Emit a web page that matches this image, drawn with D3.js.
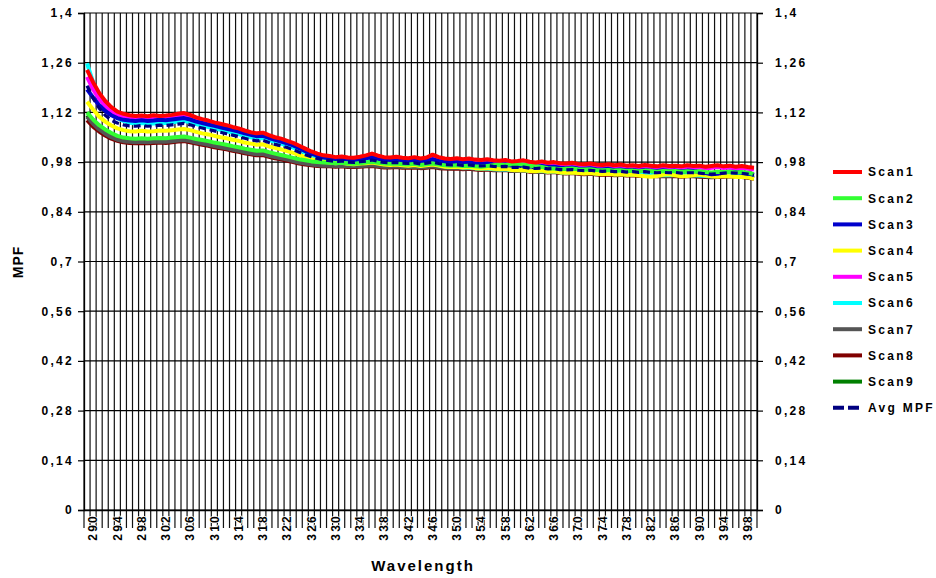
<!DOCTYPE html>
<html><head><meta charset="utf-8">
<script src="https://cdn.jsdelivr.net/npm/d3@7"></script>
<style>
html,body{margin:0;padding:0;background:#fff;}
text{font-family:"Liberation Sans",Arial,sans-serif;font-weight:bold;fill:#000;}
</style></head>
<body>
<svg id="chart" width="936" height="578"></svg>
<script>
// ---- DATA ----
const wavelengths = d3.range(289, 400); // 111 categories (289..399)
const xTickLabels = ["290","294","298","302","306","310","314","318","322","326","330","334","338","342","346","350","354","358","362","366","370","374","378","382","386","390","394","398"];
const yTicks = [0, 0.14, 0.28, 0.42, 0.56, 0.7, 0.84, 0.98, 1.12, 1.26, 1.4];
const yTickLabels = ["0","0,14","0,28","0,42","0,56","0,7","0,84","0,98","1,12","1,26","1,4"];
const seriesNames = ["Scan1","Scan2","Scan3","Scan4","Scan5","Scan6","Scan7","Scan8","Scan9","Avg MPF"];
const seriesColors = ["#ff0000","#33ff33","#0000cc","#ffff00","#ff00ff","#00ffff","#555555","#800000","#008000","#000080"];

const scan1 = [1.240,1.205,1.175,1.152,1.135,1.122,1.116,1.112,1.110,1.111,
1.109,1.112,1.110,1.111,1.113,1.116,1.118,1.113,1.106,1.101,
1.097,1.092,1.088,1.084,1.079,1.075,1.069,1.064,1.061,1.063,
1.056,1.050,1.046,1.040,1.034,1.026,1.018,1.010,1.004,0.999,
0.997,0.994,0.996,0.993,0.992,0.995,0.999,1.004,0.998,0.994,
0.993,0.995,0.992,0.991,0.994,0.990,0.993,1.001,0.994,0.990,
0.989,0.991,0.988,0.990,0.987,0.986,0.988,0.985,0.984,0.986,
0.982,0.983,0.985,0.981,0.979,0.982,0.978,0.980,0.977,0.976,
0.978,0.975,0.974,0.976,0.973,0.972,0.974,0.971,0.973,0.970,
0.971,0.969,0.972,0.970,0.968,0.971,0.969,0.970,0.968,0.971,
0.969,0.970,0.967,0.969,0.971,0.968,0.970,0.967,0.969,0.966,0.964];
const scan2 = [1.120,1.100,1.084,1.072,1.062,1.054,1.049,1.047,1.046,1.047,
1.046,1.047,1.048,1.047,1.049,1.051,1.052,1.049,1.045,1.042,
1.039,1.035,1.032,1.029,1.025,1.022,1.018,1.015,1.012,1.013,
1.008,1.004,1.000,0.996,0.992,0.988,0.985,0.982,0.980,0.979,
0.978,0.977,0.978,0.976,0.975,0.977,0.979,0.981,0.978,0.976,
0.975,0.976,0.974,0.973,0.975,0.972,0.974,0.976,0.973,0.971,
0.970,0.971,0.969,0.970,0.968,0.967,0.969,0.971,0.973,0.972,
0.974,0.975,0.973,0.970,0.968,0.966,0.963,0.962,0.960,0.961,
0.962,0.960,0.959,0.960,0.958,0.957,0.958,0.956,0.957,0.955,
0.956,0.954,0.956,0.955,0.953,0.955,0.954,0.955,0.953,0.954,
0.953,0.954,0.952,0.951,0.953,0.952,0.953,0.951,0.952,0.950,0.946];
const scan3 = [1.185,1.162,1.140,1.124,1.112,1.104,1.099,1.097,1.096,1.098,
1.096,1.097,1.099,1.098,1.100,1.102,1.104,1.100,1.094,1.090,
1.086,1.082,1.078,1.074,1.070,1.066,1.061,1.057,1.053,1.054,
1.048,1.043,1.038,1.033,1.027,1.019,1.011,1.004,0.998,0.993,
0.991,0.989,0.990,0.987,0.986,0.988,0.991,0.994,0.989,0.986,
0.985,0.987,0.984,0.983,0.985,0.982,0.984,0.988,0.983,0.980,
0.979,0.980,0.978,0.979,0.976,0.975,0.977,0.974,0.973,0.974,
0.971,0.970,0.972,0.968,0.967,0.969,0.966,0.967,0.964,0.963,
0.965,0.962,0.961,0.963,0.960,0.959,0.961,0.958,0.959,0.957,
0.958,0.956,0.958,0.956,0.955,0.957,0.955,0.956,0.954,0.956,
0.955,0.953,0.949,0.946,0.947,0.951,0.953,0.952,0.950,0.948,0.944];
const scan4 = [1.150,1.128,1.108,1.094,1.083,1.075,1.070,1.067,1.066,1.068,
1.066,1.067,1.069,1.068,1.070,1.072,1.073,1.070,1.065,1.061,
1.058,1.054,1.050,1.047,1.043,1.040,1.035,1.032,1.029,1.030,
1.024,1.020,1.016,1.011,1.006,1.000,0.994,0.988,0.984,0.981,
0.979,0.977,0.978,0.975,0.974,0.976,0.977,0.979,0.976,0.973,
0.972,0.973,0.971,0.970,0.972,0.969,0.971,0.973,0.970,0.967,
0.966,0.967,0.965,0.966,0.963,0.962,0.963,0.961,0.960,0.961,
0.958,0.957,0.958,0.955,0.954,0.956,0.953,0.954,0.951,0.950,
0.951,0.949,0.948,0.949,0.947,0.946,0.947,0.945,0.946,0.944,
0.945,0.942,0.940,0.939,0.941,0.944,0.946,0.943,0.940,0.941,
0.943,0.945,0.942,0.940,0.939,0.941,0.940,0.938,0.939,0.937,0.933];
const scan5 = [1.220,1.185,1.158,1.138,1.122,1.112,1.107,1.104,1.103,1.105,
1.103,1.105,1.104,1.105,1.107,1.109,1.111,1.107,1.100,1.096,
1.092,1.087,1.083,1.079,1.074,1.070,1.065,1.060,1.057,1.059,
1.052,1.046,1.042,1.036,1.030,1.022,1.014,1.007,1.001,0.996,
0.994,0.991,0.993,0.990,0.989,0.991,0.995,0.999,0.994,0.990,
0.989,0.991,0.988,0.987,0.990,0.986,0.989,0.995,0.989,0.985,
0.984,0.986,0.983,0.985,0.982,0.981,0.983,0.980,0.979,0.981,
0.977,0.978,0.980,0.976,0.974,0.977,0.973,0.975,0.972,0.971,
0.973,0.970,0.969,0.971,0.968,0.967,0.969,0.966,0.968,0.965,
0.966,0.964,0.967,0.965,0.963,0.966,0.964,0.965,0.963,0.966,
0.964,0.965,0.962,0.964,0.966,0.963,0.965,0.962,0.964,0.961,0.959];
const scan6 = [1.258,1.205,1.165,1.138,1.118,1.104,1.096,1.091,1.089,1.090,
1.088,1.089,1.091,1.090,1.092,1.094,1.096,1.092,1.087,1.083,
1.079,1.075,1.071,1.067,1.063,1.059,1.054,1.050,1.047,1.048,
1.042,1.037,1.032,1.027,1.021,1.014,1.006,0.999,0.993,0.988,
0.985,0.983,0.984,0.981,0.979,0.980,0.982,0.984,0.980,0.977,
0.976,0.976,0.974,0.973,0.974,0.972,0.973,0.975,0.971,0.968,
0.966,0.967,0.965,0.965,0.963,0.962,0.962,0.960,0.959,0.960,
0.957,0.957,0.958,0.955,0.954,0.955,0.953,0.954,0.951,0.950,
0.952,0.950,0.949,0.950,0.948,0.947,0.948,0.946,0.947,0.945,
0.946,0.944,0.946,0.944,0.943,0.944,0.943,0.944,0.942,0.943,
0.943,0.942,0.941,0.940,0.941,0.942,0.943,0.942,0.941,0.939,0.936];
const scan7 = [1.108,1.088,1.072,1.060,1.050,1.043,1.039,1.037,1.036,1.037,
1.036,1.037,1.038,1.037,1.039,1.041,1.042,1.039,1.035,1.032,
1.029,1.025,1.022,1.019,1.015,1.012,1.008,1.005,1.002,1.003,
0.998,0.994,0.991,0.987,0.983,0.979,0.976,0.973,0.971,0.970,
0.970,0.969,0.970,0.968,0.968,0.969,0.970,0.971,0.969,0.967,
0.967,0.968,0.966,0.966,0.967,0.965,0.966,0.968,0.965,0.964,
0.963,0.964,0.962,0.963,0.961,0.960,0.961,0.959,0.959,0.960,
0.957,0.957,0.958,0.955,0.954,0.955,0.953,0.954,0.951,0.950,
0.951,0.949,0.948,0.949,0.947,0.946,0.947,0.945,0.946,0.944,
0.945,0.943,0.944,0.943,0.942,0.943,0.942,0.943,0.941,0.942,
0.942,0.941,0.940,0.939,0.940,0.941,0.942,0.941,0.940,0.938,0.935];
const scan8 = [1.098,1.080,1.066,1.055,1.046,1.040,1.036,1.034,1.033,1.034,
1.033,1.034,1.035,1.034,1.036,1.038,1.039,1.036,1.032,1.029,
1.026,1.022,1.019,1.016,1.012,1.009,1.005,1.002,0.999,1.000,
0.995,0.991,0.988,0.984,0.980,0.976,0.973,0.971,0.969,0.968,
0.968,0.967,0.968,0.966,0.966,0.967,0.968,0.969,0.967,0.965,
0.965,0.966,0.964,0.964,0.965,0.963,0.964,0.966,0.963,0.962,
0.961,0.962,0.960,0.961,0.959,0.958,0.959,0.957,0.957,0.958,
0.955,0.955,0.956,0.953,0.952,0.953,0.951,0.952,0.949,0.948,
0.949,0.947,0.946,0.947,0.945,0.944,0.945,0.943,0.944,0.942,
0.943,0.941,0.942,0.941,0.940,0.941,0.940,0.941,0.939,0.940,
0.940,0.939,0.938,0.937,0.938,0.939,0.940,0.939,0.938,0.936,0.933];
const scan9 = [1.112,1.092,1.076,1.064,1.054,1.047,1.042,1.040,1.039,1.040,
1.039,1.040,1.041,1.040,1.042,1.044,1.045,1.042,1.038,1.035,
1.032,1.028,1.025,1.022,1.018,1.015,1.011,1.008,1.005,1.006,
1.001,0.997,0.993,0.989,0.985,0.981,0.978,0.975,0.973,0.972,
0.972,0.971,0.972,0.970,0.970,0.971,0.972,0.973,0.971,0.969,
0.969,0.970,0.968,0.968,0.969,0.967,0.968,0.970,0.967,0.966,
0.965,0.966,0.964,0.965,0.963,0.962,0.963,0.961,0.961,0.962,
0.959,0.959,0.960,0.957,0.956,0.957,0.955,0.956,0.953,0.952,
0.953,0.951,0.950,0.951,0.949,0.948,0.949,0.947,0.948,0.946,
0.947,0.945,0.946,0.945,0.944,0.945,0.944,0.945,0.943,0.944,
0.944,0.943,0.942,0.941,0.942,0.943,0.944,0.943,0.942,0.940,0.937];
const avgMPF = [1.195,1.160,1.132,1.112,1.098,1.090,1.085,1.082,1.081,1.083,
1.081,1.082,1.084,1.083,1.085,1.087,1.089,1.085,1.080,1.076,
1.072,1.068,1.064,1.060,1.056,1.052,1.047,1.043,1.040,1.041,
1.035,1.030,1.026,1.021,1.015,1.008,1.001,0.995,0.990,0.986,
0.984,0.982,0.983,0.980,0.979,0.981,0.983,0.986,0.982,0.979,
0.978,0.979,0.977,0.976,0.978,0.975,0.977,0.980,0.976,0.973,
0.972,0.973,0.971,0.972,0.970,0.969,0.970,0.968,0.967,0.968,
0.965,0.965,0.966,0.963,0.962,0.963,0.961,0.962,0.959,0.958,
0.959,0.957,0.956,0.957,0.955,0.954,0.955,0.953,0.954,0.952,
0.953,0.951,0.953,0.951,0.950,0.951,0.950,0.951,0.949,0.950,
0.950,0.949,0.947,0.946,0.947,0.949,0.950,0.949,0.948,0.946,0.943];

const seriesValues = [scan1, scan2, scan3, scan4, scan5, scan6, scan7, scan8, scan9, avgMPF];

// ---- LAYOUT ----
const svg = d3.select("#chart");
const L = 84, R = 757, T = 13, B = 510;

const x = d3.scaleBand().domain(wavelengths).range([L, R]).padding(0);
const y = d3.scaleLinear().domain([0, 1.4]).range([B, T]);

// vertical gridlines + long ticks below axis (category boundaries)
const bounds = wavelengths.map(w => x(w)).concat([R]);
svg.append("g").selectAll("line").data(bounds).join("line")
  .attr("x1", d => d).attr("x2", d => d)
  .attr("y1", T).attr("y2", B + 18)
  .attr("stroke", "#111").attr("stroke-width", 1.2);

// horizontal gridlines
svg.append("g").selectAll("line").data(yTicks).join("line")
  .attr("x1", L).attr("x2", R)
  .attr("y1", d => y(d)).attr("y2", d => y(d))
  .attr("stroke", "#000").attr("stroke-width", 1.2);

// left / right axes
const fmt = d => yTickLabels[yTicks.indexOf(d)];
const gL = svg.append("g").attr("transform", `translate(${L},0)`)
  .call(d3.axisLeft(y).tickValues(yTicks).tickFormat(fmt).tickSize(6).tickPadding(6));
const gR = svg.append("g").attr("transform", `translate(${R},0)`)
  .call(d3.axisRight(y).tickValues(yTicks).tickFormat(fmt).tickSize(6).tickPadding(12));
[gL, gR].forEach(g => {
  g.select(".domain").attr("stroke", "#000").attr("stroke-width", 1.3);
  g.selectAll(".tick line").attr("stroke", "#000").attr("stroke-width", 1.2);
  g.selectAll("text").style("font-size", "12px").style("font-weight", "bold")
    .style("letter-spacing", "2.3px").attr("fill", "#000");
});
gL.selectAll("text").attr("dx", "2");

// bottom axis with labels every 4 nm
const labelled = xTickLabels.map(s => +s);
const gB = svg.append("g").attr("transform", `translate(0,${B})`)
  .call(d3.axisBottom(x).tickValues(labelled).tickSize(0).tickFormat(d => String(d)));
gB.select(".domain").attr("stroke", "#000").attr("stroke-width", 1.3);
gB.selectAll("text")
  .attr("transform", "rotate(-90)")
  .attr("text-anchor", "end")
  .attr("x", -4).attr("y", 0).attr("dy", "0.36em")
  .style("font-size", "12px").style("font-weight", "bold").style("letter-spacing", "2.2px")
  .attr("fill", "#000")
  .attr("stroke", "#fff").attr("stroke-width", 1.5).attr("paint-order", "stroke");

// ---- LINES ----
const line = d3.line().x((d, i) => x(wavelengths[i]) + x.bandwidth() / 2).y(d => y(d));
const order = [8, 7, 6, 5, 4, 3, 2, 1, 0, 9];
svg.append("g").selectAll("path").data(order).join("path")
  .attr("d", i => line(seriesValues[i]))
  .attr("fill", "none")
  .attr("stroke", i => seriesColors[i])
  .attr("stroke-width", i => i === 9 ? 3.2 : 4)
  .attr("stroke-dasharray", i => i === 9 ? "7,4" : null)
  .attr("stroke-linejoin", "round");

// ---- TITLES ----
svg.append("text").attr("x", 423).attr("y", 571).attr("text-anchor", "middle")
  .style("font-size", "15px").style("letter-spacing", "2px").text("Wavelength");
svg.append("text").attr("transform", "translate(23,262) rotate(-90)").attr("text-anchor", "middle")
  .style("font-size", "14px").style("letter-spacing", "1px").text("MPF");

// ---- LEGEND ----
const lg = svg.append("g").attr("transform", "translate(833,172)");
const rows = lg.selectAll("g").data(seriesNames).join("g")
  .attr("transform", (d, i) => `translate(0,${i * 26.2})`);
rows.append("line").attr("x1", 0).attr("x2", 29).attr("y1", 0).attr("y2", 0)
  .attr("stroke", (d, i) => seriesColors[i]).attr("stroke-width", 4)
  .attr("stroke-dasharray", (d, i) => i === 9 ? "11,4" : null);
rows.append("text").attr("x", 35).attr("y", 0).attr("dy", "0.36em")
  .style("font-size", "12px").style("letter-spacing", "2.3px").text(d => d);
</script>
</body></html>
